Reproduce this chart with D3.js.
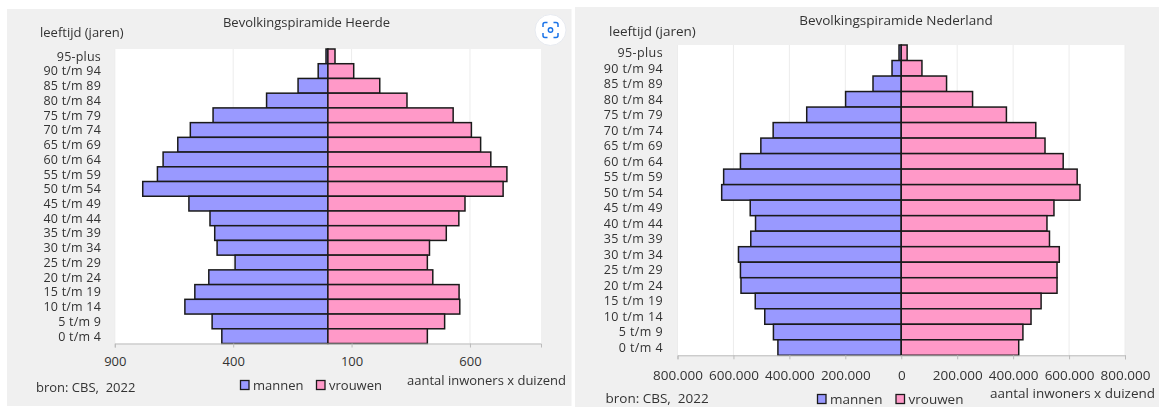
<!DOCTYPE html>
<html>
<head>
<meta charset="utf-8">
<script src="https://cdn.jsdelivr.net/npm/d3@7"></script>
<style>
  html, body { margin: 0; padding: 0; background: #fff; }
  svg { display: block; filter: blur(0.35px); }
  text { font-family: "Open Sans", sans-serif; fill: #333; }
</style>
</head>
<body>
<div id="chart"></div>
<script>
const ageGroups = ["95-plus", "90 t/m 94", "85 t/m 89", "80 t/m 84", "75 t/m 79", "70 t/m 74", "65 t/m 69",
  "60 t/m 64", "55 t/m 59", "50 t/m 54", "45 t/m 49", "40 t/m 44", "35 t/m 39", "30 t/m 34", "25 t/m 29",
  "20 t/m 24", "15 t/m 19", "10 t/m 14", "5 t/m 9", "0 t/m 4"];

// Heerde, aantal personen
const heerdeMannen = [8, 41, 126, 259, 485, 581, 634, 696, 720, 782, 587, 498, 478, 468, 392, 503, 562, 604, 489, 448];
const heerdeVrouwen = [30, 109, 219, 334, 529, 606, 645, 688, 756, 740, 579, 553, 500, 429, 420, 443, 554, 557, 493, 420];
const heerdeTicks = [-900, -400, 100, 600];

// Nederland, aantal personen
const nlMannen = [8000, 33000, 101000, 199000, 338000, 458000, 502000, 575000, 635000, 642000, 540000, 521000, 538000,
  582000, 575000, 573000, 522000, 488000, 457000, 441000];
const nlVrouwen = [21000, 74000, 162000, 255000, 376000, 481000, 514000, 579000, 629000, 639000, 546000, 521000, 530000,
  565000, 557000, 557000, 500000, 464000, 435000, 420000];
const nlTicks = [-800000, -600000, -400000, -200000, 0, 200000, 400000, 600000, 800000];

const colorMannen = "#9999ff";
const colorVrouwen = "#ff99c8";

const svg = d3.select("#chart").append("svg")
  .attr("width", 1159)
  .attr("height", 407);

function drawPyramid(p) {
  // paneel achtergrond
  svg.append("rect")
    .attr("x", p.panel[0]).attr("y", p.panel[1])
    .attr("width", p.panel[2]).attr("height", p.panel[3])
    .attr("fill", "#f0f0f0");

  const x = d3.scaleLinear().domain([-p.max, p.max]).range([p.left, p.right]);
  const y = d3.scaleBand().domain(ageGroups).range([p.top, p.bottom]).padding(0);

  svg.append("rect")
    .attr("x", p.left).attr("y", p.top)
    .attr("width", p.right - p.left).attr("height", p.bottom - p.top)
    .attr("fill", "#fff");

  // grid
  svg.append("g").selectAll("line")
    .data(p.ticks)
    .join("line")
    .attr("x1", d => x(d)).attr("x2", d => x(d))
    .attr("y1", p.top).attr("y2", p.bottom)
    .attr("stroke", "#ececec");

  // bars
  const bars = [
    { values: p.mannen, sign: -1, fill: colorMannen },
    { values: p.vrouwen, sign: 1, fill: colorVrouwen }
  ];
  bars.forEach(s => {
    svg.append("g").selectAll("rect")
      .data(s.values)
      .join("rect")
      .attr("x", d => s.sign < 0 ? x(-d) : x(0))
      .attr("y", (d, i) => y(ageGroups[i]))
      .attr("width", d => x(d) - x(0))
      .attr("height", y.bandwidth())
      .attr("fill", s.fill)
      .attr("stroke", "#1a1a1a")
      .attr("stroke-width", 1.5);
  });

  // x-as
  const axis = svg.append("g")
    .attr("transform", `translate(0,${p.bottom})`)
    .call(d3.axisBottom(x)
      .tickValues(p.ticks)
      .tickSize(4)
      .tickPadding(p.tickPad)
      .tickFormat(d => Math.abs(d) >= 1000 ? d3.format(",")(Math.abs(d)).replace(/,/g, ".") : String(Math.abs(d))));
  axis.select(".domain").attr("stroke", "#bbb");
  axis.selectAll(".tick line").attr("stroke", "#bbb");
  axis.selectAll("text").style("font-size", p.font + "px").style("fill", "#333");

  // leeftijdslabels, iets kleiner en breder gezet zodat de regels niet botsen
  svg.append("g").selectAll("text")
    .data(ageGroups)
    .join("text")
    .attr("x", p.labelX)
    .attr("y", d => y(d) + y.bandwidth() / 2)
    .attr("dy", "0.35em")
    .attr("text-anchor", "end")
    .style("font-size", "12.5px")
    .style("letter-spacing", p.labelSpacing + "px")
    .text(d => d);

  const label = (tx, ty, txt, anchor) => svg.append("text")
    .attr("x", tx).attr("y", ty)
    .attr("dy", "0.35em")
    .attr("text-anchor", anchor || "start")
    .style("font-size", p.font + "px")
    .text(txt);

  label(p.titleX, p.titleY, p.title, "middle");
  label(p.yTitle[0], p.yTitle[1], "leeftijd (jaren)");
  label(p.source[0], p.source[1], "bron: CBS,  2022").style("white-space", "pre");
  label(p.unit[0], p.unit[1], "aantal inwoners x duizend");

  // legenda
  [["mannen", colorMannen, p.legend[0]], ["vrouwen", colorVrouwen, p.legend[1]]].forEach(l => {
    svg.append("rect")
      .attr("x", l[2]).attr("y", p.legendY - 4.5)
      .attr("width", 8.5).attr("height", 9)
      .attr("fill", l[1])
      .attr("stroke", "#1a1a1a")
      .attr("stroke-width", 1.3);
    label(l[2] + 12.5, p.legendY, l[0]);
  });
}

drawPyramid({
  panel: [7, 9, 564.5, 397],
  left: 114.8, right: 541, top: 49, bottom: 343.5,
  max: 900, ticks: heerdeTicks, tickPad: 9, font: 13, labelSpacing: 0.2,
  mannen: heerdeMannen, vrouwen: heerdeVrouwen,
  labelX: 101,
  title: "Bevolkingspiramide Heerde", titleX: 306.5, titleY: 22,
  yTitle: [40, 32], source: [36, 387], unit: [407, 380],
  legend: [240.5, 316.5], legendY: 385
});

drawPyramid({
  panel: [575, 7, 584, 400],
  left: 677.5, right: 1125, top: 45, bottom: 355.3,
  max: 800000, ticks: nlTicks, tickPad: 11, font: 13.5, labelSpacing: 0.4,
  mannen: nlMannen, vrouwen: nlVrouwen,
  labelX: 663,
  title: "Bevolkingspiramide Nederland", titleX: 896, titleY: 20,
  yTitle: [609, 31], source: [605.5, 398], unit: [990, 393.7],
  legend: [817.5, 896], legendY: 399
});

// lens-knop rechtsboven in het linker paneel
const lens = svg.append("g").attr("transform", "translate(550.5,30)");
lens.append("circle").attr("r", 15.5).attr("fill", "#fff").attr("stroke", "#e6e9ef");
lens.append("path")
  .attr("d", "M-7.5,-3 V-5.5 Q-7.5,-7.5 -5.5,-7.5 H-3 M3,-7.5 H5.5 Q7.5,-7.5 7.5,-5.5 V-3 M7.5,3 V5.5 Q7.5,7.5 5.5,7.5 H3 M-3,7.5 H-5.5 Q-7.5,7.5 -7.5,5.5 V3")
  .attr("fill", "none").attr("stroke", "#1a73e8").attr("stroke-width", 1.5);
lens.append("circle").attr("r", 2.2).attr("fill", "none").attr("stroke", "#1a73e8").attr("stroke-width", 1.4);
</script>
</body>
</html>
